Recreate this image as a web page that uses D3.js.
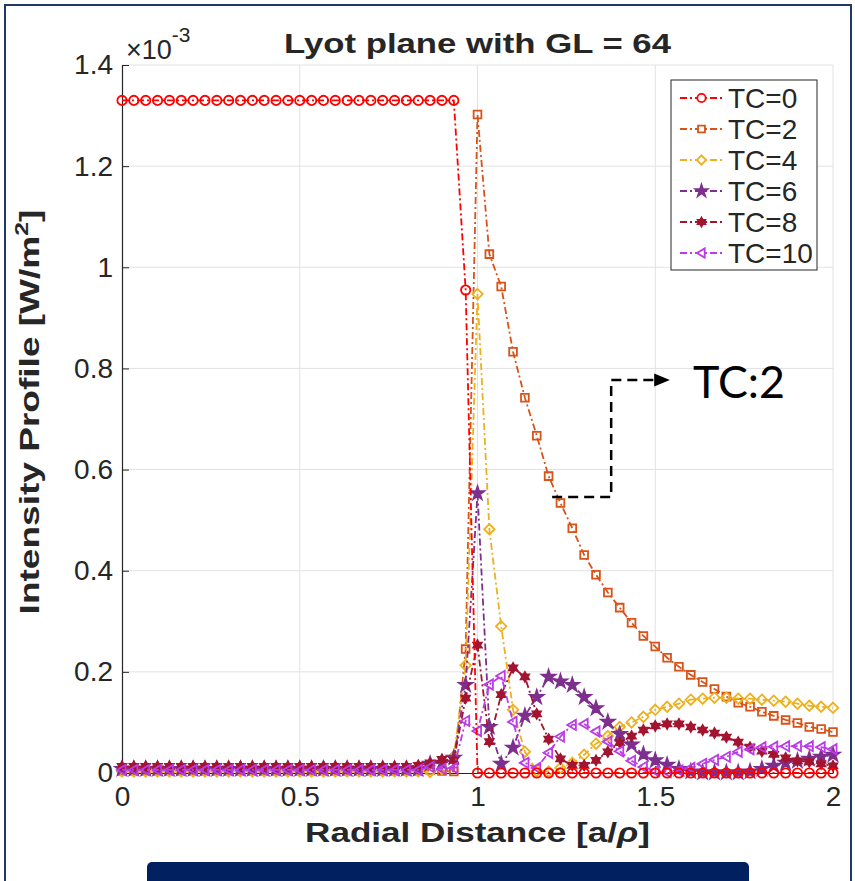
<!DOCTYPE html>
<html>
<head>
<meta charset="utf-8">
<script src="https://cdn.jsdelivr.net/npm/d3@7"></script>
<style>
body { margin: 0; background: #fff; }
text { font-family: "Liberation Sans", Arial, sans-serif; fill: #262626; }
</style>
</head>
<body>
<svg width="855" height="881"></svg>
<script>
// sample grid of the radial axis (step 1/30)
const radial = d3.range(61).map(i => i / 30);

// intensity, in units of 1e-3 W/m^2
const tc0 = [1.33,1.33,1.33,1.33,1.33,1.33,1.33,1.33,1.33,1.33,
             1.33,1.33,1.33,1.33,1.33,1.33,1.33,1.33,1.33,1.33,
             1.33,1.33,1.33,1.33,1.33,1.33,1.33,1.33,1.33,0.955,
             0,0,0,0,0,0,0,0,0,0,
             0,0,0,0,0,0,0,0,0,0,
             0,0,0,0,0,0,0,0,0,0,0];
const tc2 = [0.004,0.004,0.004,0.004,0.004,0.004,0.004,0.004,0.004,0.004,
             0.004,0.004,0.004,0.004,0.004,0.004,0.004,0.004,0.004,0.004,
             0.004,0.004,0.004,0.004,0.004,0.004,0.006,0.004,0.003,
             0.245,1.302,1.026,0.962,0.833,0.742,0.667,0.587,0.534,0.484,
             0.431,0.392,0.357,0.327,0.297,0.271,0.250,0.228,0.210,0.194,
             0.180,0.166,0.151,0.139,0.131,0.121,0.113,0.105,0.099,0.091,
             0.087,0.081];
const tc4 = [0.003,0.003,0.003,0.003,0.003,0.003,0.003,0.003,0.003,0.003,
             0.003,0.003,0.003,0.003,0.003,0.003,0.003,0.003,0.003,0.003,
             0.003,0.003,0.003,0.003,0.003,0.003,0.002,0.008,0.033,
             0.213,0.947,0.482,0.290,0.125,0.042,0.004,0.003,0.010,0.020,
             0.036,0.058,0.073,0.091,0.100,0.111,0.125,0.131,0.137,0.145,
             0.147,0.149,0.149,0.147,0.147,0.145,0.143,0.141,0.137,0.133,
             0.131,0.129];
const tc6 = [0.008,0.008,0.008,0.008,0.008,0.008,0.008,0.008,0.008,0.008,
             0.008,0.008,0.008,0.008,0.008,0.008,0.008,0.008,0.008,0.008,
             0.008,0.008,0.008,0.008,0.008,0.008,0.018,0.020,0.030,
             0.174,0.553,0.091,0.018,0.050,0.113,0.150,0.190,0.181,0.174,
             0.150,0.128,0.101,0.077,0.056,0.037,0.025,0.016,0.008,0.003,
             0.001,0.001,0.001,0.001,0.003,0.008,0.014,0.020,0.024,0.028,
             0.032,0.036];
const tc8 = [0.013,0.013,0.013,0.013,0.013,0.013,0.013,0.013,0.013,0.013,
             0.013,0.013,0.013,0.013,0.013,0.013,0.013,0.013,0.013,0.013,
             0.013,0.013,0.013,0.013,0.013,0.015,0.020,0.027,0.025,
             0.148,0.253,0.062,0.155,0.208,0.190,0.117,0.067,0.028,0.015,
             0.015,0.025,0.042,0.060,0.073,0.085,0.093,0.097,0.097,0.091,
             0.085,0.079,0.071,0.061,0.051,0.043,0.037,0.030,0.024,0.022,
             0.018,0.014];
const tc10 = [0.006,0.006,0.006,0.006,0.006,0.006,0.006,0.006,0.006,0.006,
              0.006,0.006,0.006,0.006,0.006,0.006,0.006,0.006,0.006,0.006,
              0.006,0.006,0.006,0.006,0.006,0.006,0.012,0.008,0.010,
              0.103,0.083,0.175,0.192,0.101,0.020,0.010,0.040,0.072,0.095,
              0.097,0.082,0.062,0.043,0.024,0.012,0.004,0.002,0.005,0.010,
              0.018,0.026,0.032,0.042,0.047,0.051,0.052,0.053,0.053,0.053,
              0.051,0.047];

const seriesNames = ['TC=0', 'TC=2', 'TC=4', 'TC=6', 'TC=8', 'TC=10'];
const seriesValues = [tc0, tc2, tc4, tc6, tc8, tc10];
const seriesColors = ['#FF0000', '#D95319', '#EDB120', '#7E2F8E', '#A2142F', '#BC3BE8'];

const xTicks = [0, 0.5, 1, 1.5, 2];
const yTicks = [0, 0.2, 0.4, 0.6, 0.8, 1, 1.2, 1.4];

// marker shapes (matlab o s d p h <)
const hexagram = {
    draw(ctx, size) {
        const r = Math.sqrt(size) * 0.62;
        for (let k = 0; k < 12; k++) {
            const a = Math.PI * k / 6 - Math.PI / 2;
            const rr = k % 2 ? r / Math.sqrt(3) : r;
            k ? ctx.lineTo(rr * Math.cos(a), rr * Math.sin(a)) : ctx.moveTo(rr * Math.cos(a), rr * Math.sin(a));
        }
        ctx.closePath();
    }
};
const triLeft = {
    draw(ctx, size) {
        const r = Math.sqrt(size) * 0.6;
        ctx.moveTo(-r, 0);
        ctx.lineTo(r * 0.7, -r);
        ctx.lineTo(r * 0.7, r);
        ctx.closePath();
    }
};
const markers = [
    {type: d3.symbolCircle, size: 68, fill: 'none'},
    {type: d3.symbolSquare, size: 60, fill: 'none'},
    {type: d3.symbolDiamond2 || d3.symbolDiamond, size: 70, fill: 'none'},
    {type: d3.symbolStar, size: 55, fill: 'color'},
    {type: hexagram, size: 62, fill: 'color'},
    {type: triLeft, size: 72, fill: 'none'}
];

const svg = d3.select('svg');

// outer slide frame + bottom bar
svg.append('rect').attr('x', 5).attr('y', 5).attr('width', 846).attr('height', 900)
    .attr('fill', 'none').attr('stroke', '#1F3864').attr('stroke-width', 2);
svg.append('rect').attr('x', 147).attr('y', 862).attr('width', 602).attr('height', 40)
    .attr('rx', 5).attr('fill', '#002060');

const x = d3.scaleLinear().domain([0, 2]).range([122, 833]);
const y = d3.scaleLinear().domain([0, 1.4]).range([773, 65]);

// grid
const grid = svg.append('g').attr('stroke', '#e2e2e2').attr('stroke-width', 1);
grid.selectAll('.gx').data(xTicks.slice(1)).join('line')
    .attr('x1', d => x(d)).attr('x2', d => x(d)).attr('y1', y(0)).attr('y2', y(1.4));
grid.selectAll('.gy').data(yTicks.slice(1)).join('line')
    .attr('x1', x(0)).attr('x2', x(2)).attr('y1', d => y(d)).attr('y2', d => y(d));

// axes
const xAxis = svg.append('g').attr('transform', `translate(0,${y(0)})`)
    .call(d3.axisBottom(x).tickValues(xTicks).tickSizeInner(-7).tickSizeOuter(0).tickFormat(d3.format('')));
const yAxis = svg.append('g').attr('transform', `translate(${x(0)},0)`)
    .call(d3.axisLeft(y).tickValues(yTicks).tickSizeInner(-7).tickSizeOuter(0).tickFormat(d3.format('')));
[xAxis, yAxis].forEach(a => {
    a.select('.domain').attr('stroke', '#262626').attr('stroke-width', 1.2);
    a.selectAll('.tick line').attr('stroke', '#262626');
    a.selectAll('.tick text').attr('font-size', 28).attr('fill', '#262626')
        .style('font-family', '"Liberation Sans", Arial, sans-serif');
});
xAxis.selectAll('.tick text').attr('y', 33).attr('dy', 0);
yAxis.selectAll('.tick text').attr('x', -9);

// exponent label
const expo = svg.append('text').attr('x', 126).attr('y', 59).attr('font-size', 27);
expo.append('tspan').text('\u00d710');
expo.append('tspan').attr('dy', -17).attr('font-size', 21).text('-3');

// title
svg.append('text').attr('x', x(1)).attr('y', 53).attr('text-anchor', 'middle')
    .attr('font-size', 27).attr('font-weight', 'bold')
    .attr('textLength', 387).attr('lengthAdjust', 'spacingAndGlyphs')
    .text('Lyot plane with GL = 64');

// axis labels
const xl = svg.append('text').attr('x', x(1)).attr('y', 842).attr('text-anchor', 'middle')
    .attr('font-size', 28).attr('font-weight', 'bold');
xl.append('tspan').text('Radial Distance [a/');
xl.append('tspan').attr('font-style', 'italic').text('\u03c1');
xl.append('tspan').text(']');
fitWidth(xl, 345);

const yl = svg.append('g').attr('transform', 'translate(39,412) rotate(-90)')
    .append('text').attr('text-anchor', 'middle').attr('font-size', 27).attr('font-weight', 'bold');
yl.append('tspan').text('Intensity Profile [W/m');
yl.append('tspan').attr('dy', -11).attr('font-size', 18).text('2');
yl.append('tspan').attr('dy', 11).text(']');
fitWidth(yl, 405);

function fitWidth(sel, w) {
    const b = sel.node().getBBox();
    const cx = b.x + b.width / 2;
    sel.attr('transform', `translate(${cx},0) scale(${w / b.width},1) translate(${-cx},0)`);
}

// series
const line = d3.line().x((d, i) => x(radial[i])).y(d => y(d));
const order = [1, 2, 3, 4, 5, 0];
const plot = svg.append('g');
order.forEach(s => {
    const g = plot.append('g');
    g.append('path').attr('d', line(seriesValues[s]))
        .attr('fill', 'none').attr('stroke', seriesColors[s]).attr('stroke-width', 1.8)
        .attr('stroke-dasharray', '7,3,2,3');
    const m = markers[s];
    g.selectAll('path.mk').data(seriesValues[s]).join('path').attr('class', 'mk')
        .attr('d', d3.symbol(m.type, m.size))
        .attr('transform', (d, i) => `translate(${x(radial[i])},${y(d)})`)
        .attr('fill', m.fill === 'color' ? seriesColors[s] : 'none')
        .attr('stroke', seriesColors[s]).attr('stroke-width', 1.8);
});

// legend
const lg = svg.append('g');
lg.append('rect').attr('x', 671).attr('y', 80).attr('width', 146).attr('height', 190)
    .attr('fill', '#fff').attr('stroke', '#262626').attr('stroke-width', 1);
seriesNames.forEach((name, s) => {
    const cy = 98 + s * 31;
    lg.append('line').attr('x1', 680).attr('x2', 723).attr('y1', cy).attr('y2', cy)
        .attr('stroke', seriesColors[s]).attr('stroke-width', 1.8).attr('stroke-dasharray', '7,3,2,3');
    const m = markers[s];
    lg.append('path').attr('d', d3.symbol(m.type, m.size * 0.8))
        .attr('transform', `translate(701.5,${cy})`)
        .attr('fill', m.fill === 'color' ? seriesColors[s] : '#fff')
        .attr('stroke', seriesColors[s]).attr('stroke-width', 1.8);
    lg.append('text').attr('x', 728).attr('y', cy + 10).attr('font-size', 28).text(name);
});

// TC:2 callout, in data coordinates
const callout = [[1.21, 0.546], [1.376, 0.546], [1.376, 0.777], [1.5, 0.777]];
svg.append('path').attr('d', d3.line().x(d => x(d[0])).y(d => y(d[1]))(callout))
    .attr('fill', 'none').attr('stroke', '#000').attr('stroke-width', 2.5).attr('stroke-dasharray', '10,6');
svg.append('path')
    .attr('d', `M${x(1.497)},${y(0.777) - 6.5}L${x(1.541)},${y(0.777)}L${x(1.497)},${y(0.777) + 6.5}Z`)
    .attr('fill', '#000');
svg.append('text').attr('x', 693).attr('y', 398).attr('font-size', 45)
    .style('font-family', 'Lato, "Open Sans", sans-serif').style('fill', '#000')
    .attr('textLength', 92).attr('lengthAdjust', 'spacingAndGlyphs').text('TC:2');
</script>
</body>
</html>
